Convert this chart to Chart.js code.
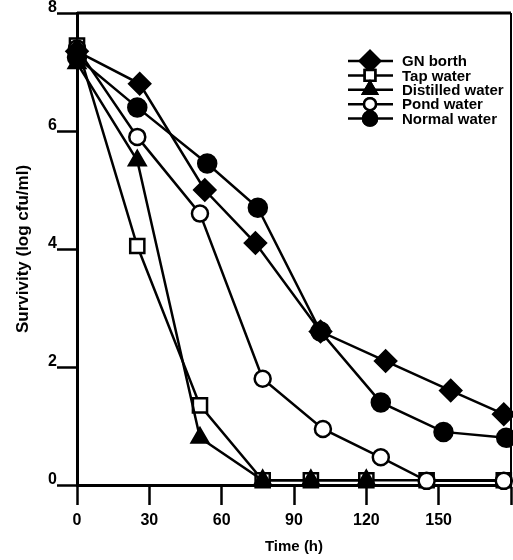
<!DOCTYPE html>
<html>
<head>
<meta charset="utf-8">
<script src="https://cdn.jsdelivr.net/npm/chart.js@4"></script>
<style>
  html, body { margin: 0; padding: 0; background: #fff; }
  #wrap { width: 513px; height: 560px; }
</style>
</head>
<body>
<div id="wrap"><canvas id="chart"></canvas></div>
<script>
const seriesNames = ['GN borth', 'Tap water', 'Distilled water', 'Pond water', 'Normal water'];

const gnX = [0, 26, 53, 74, 101, 128, 155, 177];
const gnY = [7.35, 6.8, 5.0, 4.1, 2.6, 2.1, 1.6, 1.2];

const tapX = [0, 25, 51, 77, 97, 120, 145, 177];
const tapY = [7.45, 4.05, 1.35, 0.08, 0.08, 0.08, 0.08, 0.08];

const distX = [0, 25, 51, 77, 97, 120];
const distY = [7.15, 5.5, 0.8, 0.08, 0.08, 0.08];

const pondX = [0, 25, 51, 77, 102, 126, 145, 177];
const pondY = [7.4, 5.9, 4.6, 1.8, 0.95, 0.47, 0.07, 0.07];

const normX = [0, 25, 54, 75, 101, 126, 152, 178];
const normY = [7.25, 6.4, 5.45, 4.7, 2.6, 1.4, 0.9, 0.8];

const xTicks = [0, 30, 60, 90, 120, 150, 180];
const yTicks = [0, 2, 4, 6, 8];

const FONT = "'Liberation Sans', Arial, sans-serif";

function pts(xs, ys) {
    return xs.map((x, i) => ({ x: x, y: ys[i] }));
}

function series(i, xs, ys, style, radius, legendRadius, fill, order) {
    return {
        label: seriesNames[i],
        data: pts(xs, ys),
        borderColor: '#000',
        borderWidth: 2.5,
        pointStyle: style,
        pointRadius: radius,
        legendRadius: legendRadius,
        pointBackgroundColor: fill,
        pointBorderColor: '#000',
        pointBorderWidth: 2.5,
        tension: 0,
        clip: false,
        order: order
    };
}

const datasets = [
    series(0, gnX, gnY, 'rectRot', 10.5, 10, '#000', 2),
    series(1, tapX, tapY, 'rect', 10, 7.5, '#fff', 5),
    series(2, distX, distY, 'triangle', 9.5, 8, '#000', 4),
    series(3, pondX, pondY, 'circle', 8, 6, '#fff', 3),
    series(4, normX, normY, 'circle', 9, 7, '#000', 1)
];

// box: top and right border lines
const boxLines = {
    id: 'boxLines',
    afterDatasetsDraw(chart) {
        const a = chart.chartArea;
        const ctx = chart.ctx;
        ctx.save();
        ctx.strokeStyle = '#000';
        ctx.lineWidth = 3;
        ctx.beginPath();
        ctx.moveTo(a.left, a.top);
        ctx.lineTo(a.right, a.top);
        ctx.stroke();
        ctx.lineWidth = 2;
        ctx.beginPath();
        ctx.moveTo(a.right, a.top);
        ctx.lineTo(a.right, a.bottom);
        ctx.stroke();
        ctx.restore();
    }
};

// legend with line + marker, like the printed figure
const lineLegend = {
    id: 'lineLegend',
    afterDraw(chart) {
        const ctx = chart.ctx;
        ctx.save();
        chart.data.datasets.forEach((ds, i) => {
            const y = 61 + i * 14.4;
            ctx.strokeStyle = '#000';
            ctx.lineWidth = 2.5;
            ctx.beginPath();
            ctx.moveTo(348, y);
            ctx.lineTo(393, y);
            ctx.stroke();
            Chart.helpers.drawPoint(ctx, {
                pointStyle: ds.pointStyle,
                radius: ds.legendRadius,
                borderWidth: ds.pointBorderWidth
            }, 370, y);
            ctx.fillStyle = ds.pointBackgroundColor;
            ctx.fill();
            ctx.stroke();
            ctx.fillStyle = '#000';
            ctx.font = 'bold 15px ' + FONT;
            ctx.textAlign = 'left';
            ctx.textBaseline = 'middle';
            ctx.fillText(ds.label, 402, y + 1);
        });
        ctx.restore();
    }
};

const config = {
    type: 'line',
    data: { datasets: datasets },
    options: {
        responsive: false,
        animation: false,
        layout: { autoPadding: false, padding: { left: 0, right: 2, top: 13, bottom: 0 } },
        plugins: {
            legend: { display: false },
            tooltip: { enabled: false }
        },
        scales: {
            x: {
                type: 'linear',
                min: 0,
                max: 180,
                afterBuildTicks(scale) {
                    scale.ticks = xTicks.map(v => ({ value: v }));
                },
                afterFit(scale) {
                    scale.height = 75;
                    scale.paddingLeft = 0;
                    scale.paddingRight = 0;
                },
                ticks: {
                    color: '#000',
                    font: { family: FONT, size: 16, weight: 'bold' },
                    padding: 6,
                    maxRotation: 0,
                    callback: v => (v === 180 ? '' : v)
                },
                grid: {
                    drawOnChartArea: false,
                    tickLength: 20,
                    tickWidth: 2.5,
                    tickColor: '#000'
                },
                border: { display: true, color: '#000', width: 3 },
                title: {
                    display: true,
                    text: 'Time (h)',
                    color: '#000',
                    font: { family: FONT, size: 15, weight: 'bold' },
                    padding: { top: 0, bottom: 4 }
                }
            },
            y: {
                min: 0,
                max: 8,
                afterBuildTicks(scale) {
                    scale.ticks = yTicks.map(v => ({ value: v }));
                },
                afterFit(scale) {
                    scale.width = 77;
                    scale.paddingTop = 0;
                    scale.paddingBottom = 0;
                },
                ticks: {
                    color: '#000',
                    font: { family: FONT, size: 16, weight: 'bold' },
                    padding: 0,
                    labelOffset: -5
                },
                grid: {
                    drawOnChartArea: false,
                    tickLength: 20,
                    tickWidth: 2.5,
                    tickColor: '#000'
                },
                border: { display: true, color: '#000', width: 3 },
                title: {
                    display: true,
                    text: 'Survivity (log cfu/ml)',
                    color: '#000',
                    font: { family: FONT, size: 17, weight: 'bold' },
                    padding: { top: 13, bottom: 0 }
                }
            }
        }
    },
    plugins: [boxLines, lineLegend]
};

const canvas = document.getElementById('chart');
canvas.width = 513;
canvas.height = 560;
const myChart = new Chart(canvas, config);
</script>
</body>
</html>
